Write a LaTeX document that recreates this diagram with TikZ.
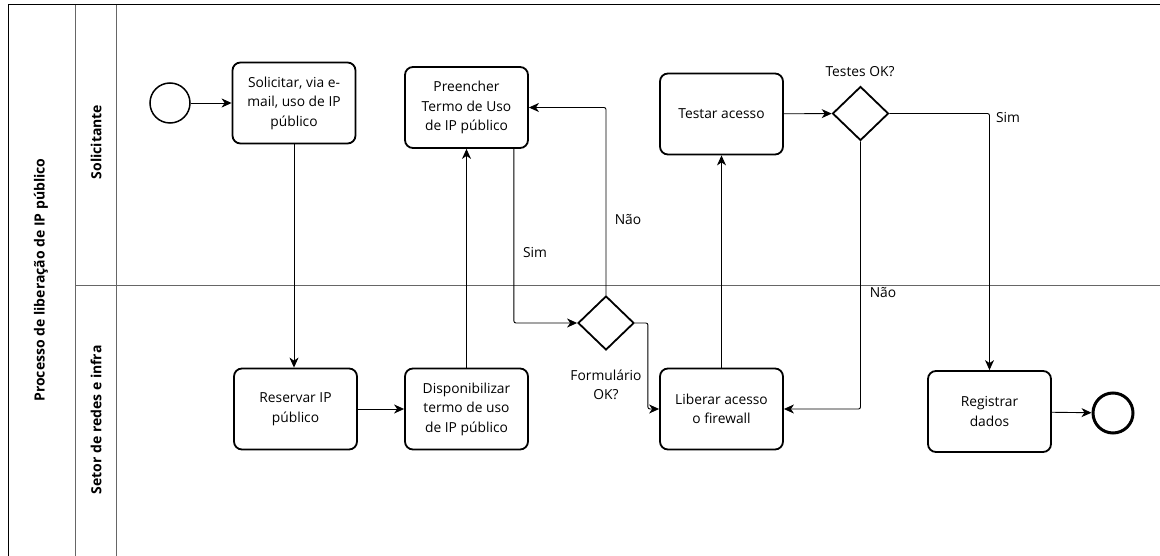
\documentclass[tikz,border=0pt]{standalone}
\usepackage{fontspec}
\setmainfont{Open Sans}
\usetikzlibrary{arrows.meta,shapes.geometric,calc}
\begin{document}
\begin{tikzpicture}[x=1pt,y=-1pt,
  task/.style={draw,line width=1.8pt,rounded corners=8pt,minimum width=123pt,minimum height=81pt,align=center,font=\fontsize{13.8}{19.5}\selectfont,inner sep=2pt},
  gate/.style={draw,line width=1.8pt,diamond,minimum width=56pt,minimum height=54pt,inner sep=0pt},
  flow/.style={-{Stealth[length=10pt,width=9pt,inset=3pt]},line width=0.9pt,rounded corners=2pt},
  lbl/.style={font=\fontsize{13.8}{19.5}\selectfont,align=center},
  lanelbl/.style={font=\bfseries\fontsize{14}{16}\selectfont,rotate=90},
  frameline/.style={draw=black!60,line width=0.8pt}
]
\useasboundingbox (0,0) rectangle (1160,556);
% frame
\draw[line width=1pt] (8,556) -- (8,5) -- (1160,5);
\draw[frameline] (75,5) -- (75,556);
\draw[frameline] (116,5) -- (116,556);
\draw[frameline] (75,285) -- (1160,285);
% lane labels
\node[lanelbl] (pool) at (41,280) {Processo de liberação de IP público};
\node[lanelbl] (lane1) at (96,142) {Solicitante};
\node[lanelbl] (lane2) at (96,420) {Setor de redes e infra};
% nodes
\node[circle,draw,line width=1.5pt,minimum size=40pt,inner sep=0pt] (start) at (170,103) {};
\node[task] (sol) at (294,103) {Solicitar, via e-\\mail, uso de IP\\público};
\node[task] (pre) at (466.5,107.5) {Preencher\\Termo de Uso\\de IP público};
\node[task] (tst) at (721.5,114) {Testar acesso};
\node[gate] (tes) at (860.5,113.5) {};
\node[lbl] (tesl) at (860,72) {Testes OK?};
\node[task] (res) at (295.5,409) {Reservar IP\\público};
\node[task] (dis) at (466.5,409) {Disponibilizar\\termo de uso\\de IP público};
\node[gate] (form) at (606,323) {};
\node[lbl] (forml) at (606,385) {Formulário\\OK?};
\node[task] (lib) at (721.5,409) {Liberar acesso\\o firewall};
\node[task] (reg) at (989.5,411.5) {Registrar\\dados};
\node[circle,draw,line width=3pt,minimum size=40pt,inner sep=0pt] (end) at (1113,413) {};
% connectors
\draw[flow] (start) -- (sol);
\draw[flow] (sol.south) -- (sol.south |- res.north);
\draw[flow] (res) -- (dis);
\draw[flow] (dis.north) -- (dis.north |- pre.south);
\draw[flow] ([xshift=-15pt]pre.south east) |- (form.west);
\draw[flow] (form.north) |- (pre.east);
\draw[flow] (form.east) -- ++(13,0) |- (lib.west);
\draw[flow] (lib.north) -- (tst.south);
\draw[flow] (tst) -- (tes);
\draw[flow] (tes.east) -| (reg.north);
\draw[flow] (tes.south) |- (lib.east);
\draw[flow] (reg) -- (end);
% connector labels
\node[lbl] (sim1) at (535,253) {Sim};
\node[lbl] (nao1) at (628,220) {Não};
\node[lbl] (sim2) at (1008,118) {Sim};
\node[lbl] (nao2) at (883,293) {Não};
\end{tikzpicture}
\end{document}
